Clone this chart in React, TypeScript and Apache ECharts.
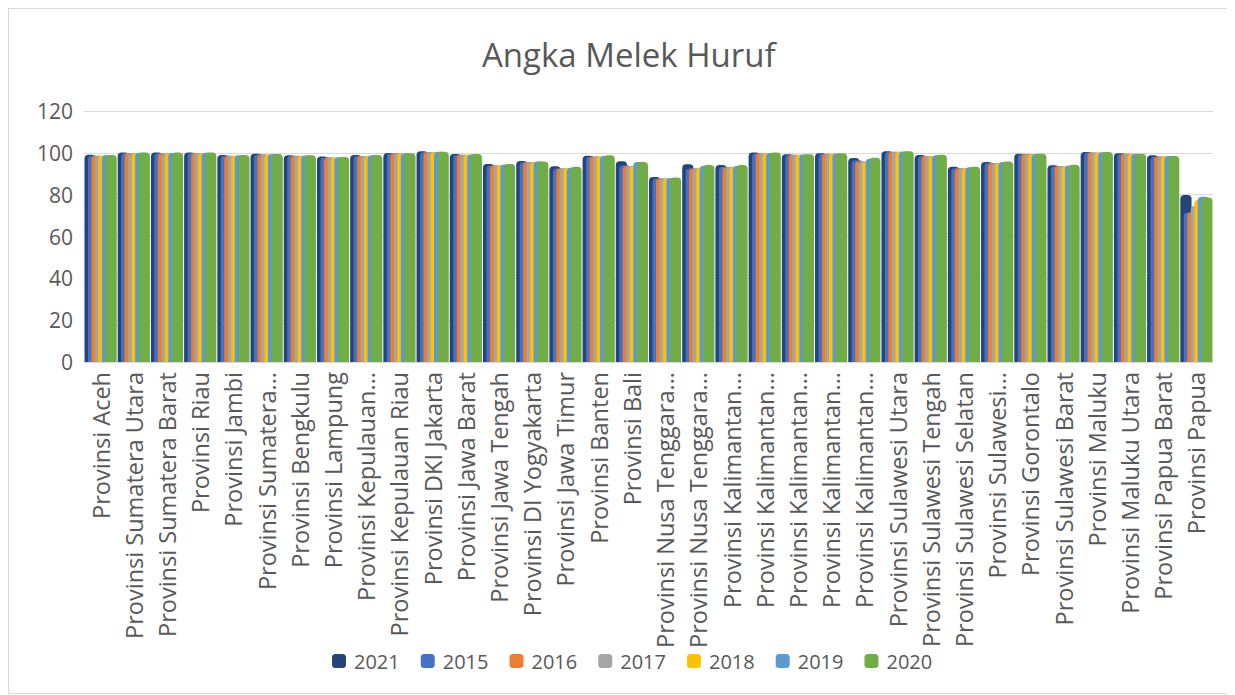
import React, { useEffect, useRef } from "react";
import * as echarts from "echarts";

const categories = [
  "Provinsi Aceh", "Provinsi Sumatera Utara", "Provinsi Sumatera Barat", "Provinsi Riau",
  "Provinsi Jambi", "Provinsi Sumatera...", "Provinsi Bengkulu", "Provinsi Lampung",
  "Provinsi Kepulauan...", "Provinsi Kepulauan Riau", "Provinsi DKI Jakarta", "Provinsi Jawa Barat",
  "Provinsi Jawa Tengah", "Provinsi DI Yogyakarta", "Provinsi Jawa Timur", "Provinsi Banten",
  "Provinsi Bali", "Provinsi Nusa Tenggara...", "Provinsi Nusa Tenggara...", "Provinsi Kalimantan...",
  "Provinsi Kalimantan...", "Provinsi Kalimantan...", "Provinsi Kalimantan...", "Provinsi Kalimantan...",
  "Provinsi Sulawesi Utara", "Provinsi Sulawesi Tengah", "Provinsi Sulawesi Selatan", "Provinsi Sulawesi...",
  "Provinsi Gorontalo", "Provinsi Sulawesi Barat", "Provinsi Maluku", "Provinsi Maluku Utara",
  "Provinsi Papua Barat", "Provinsi Papua",
];

const seriesNames = ["2021", "2015", "2016", "2017", "2018", "2019", "2020"];
const seriesColors = ["#264478", "#4472C4", "#ED7D31", "#A5A5A5", "#FFC000", "#5B9BD5", "#70AD47"];

const v2021 = [99.1, 100.1, 100.1, 100.1, 99.0, 99.6, 98.8, 98.3, 99.0, 99.9, 100.7, 99.4, 94.7, 96.1, 93.6, 98.6, 96.0, 88.5, 94.6, 94.2, 100.1, 99.3, 99.8, 97.5, 100.7, 99.0, 93.4, 95.6, 99.6, 94.1, 100.4, 99.8, 98.8, 79.8];
const v2015 = [98.6, 99.9, 99.8, 99.9, 98.6, 99.2, 98.6, 97.8, 98.5, 99.8, 100.4, 99.1, 94.0, 95.6, 92.5, 98.3, 94.1, 87.7, 92.5, 93.4, 99.8, 99.1, 99.6, 96.4, 100.5, 98.5, 92.6, 95.2, 99.4, 93.6, 100.1, 99.6, 98.2, 71.5];
const v2016 = [98.6, 99.9, 99.8, 99.9, 98.6, 99.2, 98.6, 97.8, 98.5, 99.8, 100.4, 99.1, 94.0, 95.6, 92.5, 98.3, 93.7, 87.7, 92.5, 93.1, 99.8, 99.1, 99.6, 95.9, 100.5, 98.5, 92.6, 95.0, 99.4, 93.6, 100.1, 99.6, 98.2, 71.5];
const v2017 = [98.6, 99.9, 99.8, 99.9, 98.6, 99.2, 98.6, 97.8, 98.5, 99.8, 100.4, 99.1, 94.0, 95.6, 92.6, 98.3, 93.7, 87.8, 92.8, 93.4, 99.8, 99.1, 99.6, 95.9, 100.5, 98.5, 92.6, 95.0, 99.4, 93.6, 100.1, 99.6, 98.2, 74.7];
const v2018 = [98.7, 99.9, 99.8, 99.9, 98.6, 99.2, 98.6, 97.8, 98.5, 99.8, 100.4, 99.1, 94.1, 95.7, 92.7, 98.3, 93.8, 87.9, 93.0, 93.4, 99.8, 99.1, 99.6, 95.9, 100.5, 98.5, 92.7, 95.2, 99.4, 93.6, 100.1, 99.6, 98.2, 77.4];
const v2019 = [98.9, 100.0, 99.9, 100.0, 98.8, 99.3, 98.7, 97.9, 98.8, 99.8, 100.5, 99.2, 94.4, 95.8, 92.9, 98.5, 95.6, 88.0, 93.8, 93.7, 99.9, 99.2, 99.7, 97.2, 100.6, 98.9, 93.1, 95.6, 99.5, 94.0, 100.3, 99.6, 98.5, 79.0];
const v2020 = [99.0, 100.1, 100.1, 100.1, 99.0, 99.4, 98.8, 98.0, 99.0, 99.8, 100.5, 99.4, 94.7, 95.9, 93.4, 98.8, 95.6, 88.2, 94.2, 94.2, 100.1, 99.3, 99.8, 97.7, 100.7, 99.1, 93.4, 95.9, 99.6, 94.3, 100.4, 99.6, 98.5, 78.6];

const seriesValues = [v2021, v2015, v2016, v2017, v2018, v2019, v2020];

const yMin = 0;
const yMax = 120;
const yInterval = 20;

const FONT = "'Open Sans', 'DejaVu Sans', sans-serif";
const TEXT = "#595959";

export default function App() {
  const ref = useRef<HTMLDivElement>(null);

  useEffect(() => {
    if (!ref.current) return;
    const chart = echarts.init(ref.current, null, { renderer: "svg" });
    chart.setOption({
      animation: false,
      backgroundColor: "#ffffff",
      title: {
        text: "Angka Melek Huruf",
        left: 468,
        top: 24,
        textStyle: { fontFamily: FONT, fontSize: 33, fontWeight: "normal", color: TEXT },
      },
      legend: {
        data: seriesNames,
        bottom: 17,
        left: 318,
        icon: "roundRect",
        itemWidth: 14,
        itemHeight: 14,
        itemGap: 21,
        textStyle: { fontFamily: FONT, fontSize: 20, color: TEXT, padding: [0, 0, 0, 3] },
      },
      grid: { left: 75, right: 15, top: 102, bottom: 331, containLabel: false },
      xAxis: {
        type: "category",
        data: categories,
        axisTick: { show: false },
        axisLine: { lineStyle: { color: "#d9d9d9", width: 1 } },
        axisLabel: {
          interval: 0,
          rotate: 90,
          margin: 10,
          fontFamily: FONT,
          fontSize: 23.5,
          color: TEXT,
        },
      },
      yAxis: {
        type: "value",
        min: yMin,
        max: yMax,
        interval: yInterval,
        axisLine: { show: false },
        axisTick: { show: false },
        splitLine: { lineStyle: { color: "#d9d9d9", width: 1 } },
        axisLabel: { fontFamily: FONT, fontSize: 21, color: TEXT, margin: 11 },
      },
      series: seriesNames.map((name, i) => ({
        name,
        type: "bar",
        data: seriesValues[i],
        barGap: "-69%",
        barCategoryGap: "3%",
        itemStyle: { color: seriesColors[i], borderRadius: [4, 4, 0, 0] },
      })),
    });
    return () => chart.dispose();
  }, []);

  return (
    <div
      ref={ref}
      style={{ width: 1219, height: 684, border: "1px solid #d9d9d9" }}
    />
  );
}
